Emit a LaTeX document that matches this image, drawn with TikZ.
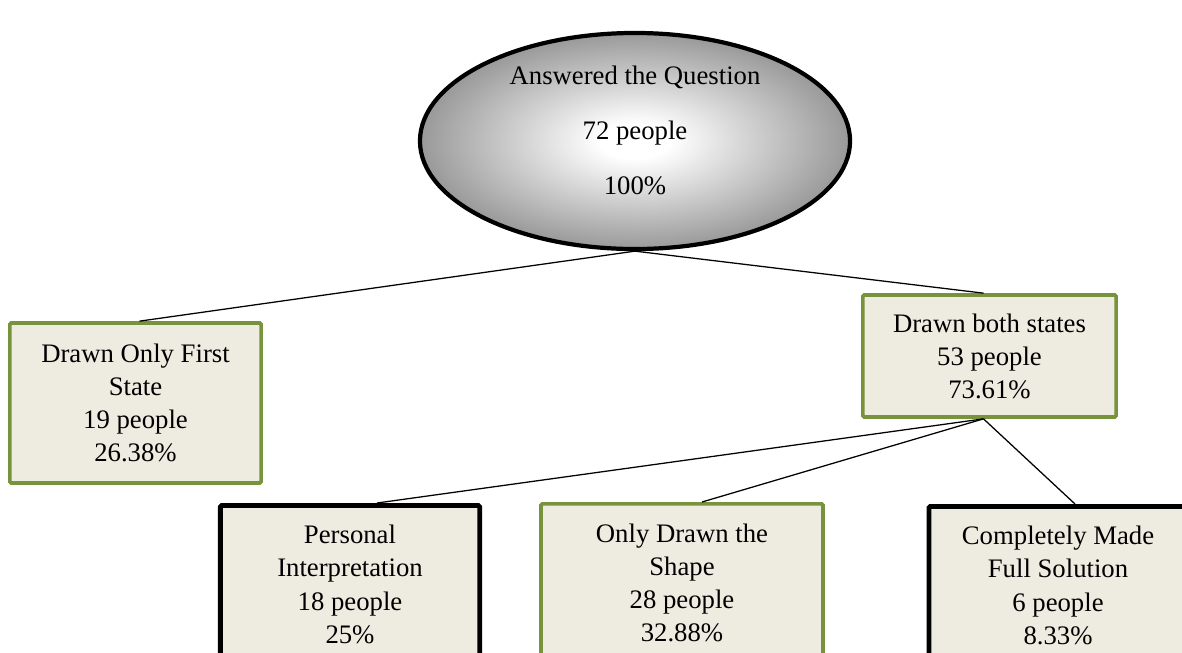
\documentclass[tikz,border=0pt]{standalone}
\usepackage{fontspec}
\setmainfont{Liberation Serif}
\usepackage{tikz}
\usetikzlibrary{calc, positioning, shapes.geometric}
\definecolor{olivegrn}{HTML}{77933C}
\definecolor{paper}{HTML}{EEECE1}
\definecolor{ovaledge}{gray}{0.6}
\pgfdeclareradialshading{ovalshade}{\pgfpoint{0bp}{0bp}}{color(0bp)=(white); color(4bp)=(white); color(25bp)=(ovaledge); color(50bp)=(ovaledge)}
\tikzstyle{oval}=[ellipse, draw, line width=3pt, inner sep=0pt, shading=ovalshade, align=center, font=\fontsize{19}{39}\selectfont, minimum width=10.75cm, minimum height=5.4cm]
\tikzstyle{grnbox}=[draw=olivegrn, fill=paper, line width=2.6pt, rounded corners=1pt, align=center, font=\fontsize{19}{23.5}\selectfont]
\tikzstyle{blkbox}=[grnbox, draw=black, line width=3.4pt]
\tikzstyle{conn}=[line width=0.9pt]

\begin{document}
\begin{tikzpicture}[x=0.025cm, y=-0.025cm]
\useasboundingbox (0,0) rectangle (1182,652);
\clip (0,0) rectangle (1182,652);
\node[oval, text depth=0.55cm] (ans) at (635,141) {Answered the Question\\72 people\\100\%};
\node[grnbox, minimum width=6.28cm, minimum height=4.0cm] (first) at (135.5,403) {Drawn Only First\\State\\19 people\\26.38\%};
\node[grnbox, minimum width=6.33cm, minimum height=3.05cm] (both) at (989.5,356) {Drawn both states\\53 people\\73.61\%};
\node[blkbox, anchor=north, minimum width=6.48cm, minimum height=3.95cm] (pers) at (350,503) {Personal\\Interpretation\\18 people\\25\%};
\node[grnbox, anchor=north, minimum width=7.05cm, minimum height=3.95cm] (shape) at (682,502) {Only Drawn the\\Shape\\28 people\\32.88\%};
\node[blkbox, anchor=north, minimum width=6.45cm, minimum height=3.95cm] (full) at (1058,504) {Completely Made\\Full Solution\\6 people\\8.33\%};
%\draw[conn] (ans.south) -- (first.north);
\draw[conn] (ans.south) -- ([xshift=0.1cm]first.north);
\draw[conn] (ans.south) -- ([xshift=-0.15cm]both.north);
\draw[conn] ([xshift=-0.15cm]both.south) -- ([xshift=0.675cm]pers.north);
\draw[conn] ([xshift=-0.15cm]both.south) -- ([xshift=0.5cm]shape.north);
\draw[conn] ([xshift=-0.15cm]both.south) -- ([xshift=0.425cm]full.north);
\end{tikzpicture}
\end{document}
